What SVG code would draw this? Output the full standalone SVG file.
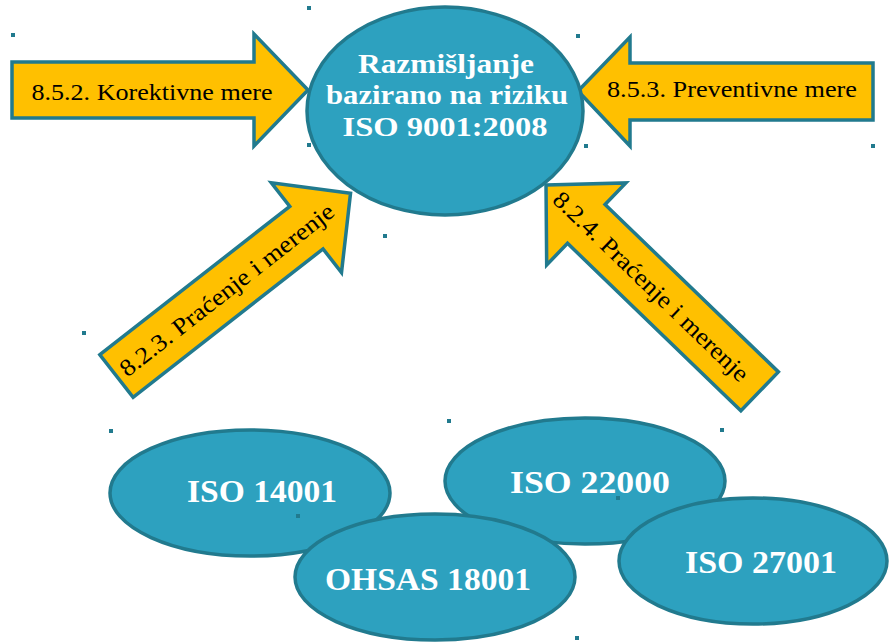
<svg xmlns="http://www.w3.org/2000/svg" width="890" height="642" viewBox="0 0 890 642">
<style>
.ell{fill:#2da1bf;stroke:#217a8e;stroke-width:3.5}
.arr{fill:#ffc000;stroke:#217a8e;stroke-width:3.5;stroke-linejoin:miter}
.wt{font-family:"Liberation Serif",serif;font-weight:bold;fill:#ffffff;text-anchor:middle}
.bt{font-family:"Liberation Serif",serif;fill:#000000;text-anchor:middle;font-size:24px}
.dot{fill:#217a8e}
</style>
<rect width="890" height="642" fill="#ffffff"/>
<g id="dots">
<rect class="dot" x="307" y="6" width="4" height="4"/>
<rect class="dot" x="11" y="33" width="4" height="4"/>
<rect class="dot" x="307" y="143" width="4" height="4"/>
<rect class="dot" x="576" y="34" width="4" height="4"/>
<rect class="dot" x="584" y="144" width="4" height="4"/>
<rect class="dot" x="871" y="144" width="4" height="4"/>
<rect class="dot" x="383" y="234" width="4" height="4"/>
<rect class="dot" x="82" y="331" width="4" height="4"/>
<rect class="dot" x="109" y="429" width="4" height="4"/>
<rect class="dot" x="447" y="419" width="4" height="4"/>
<rect class="dot" x="720" y="428" width="4" height="4"/>
<rect class="dot" x="575" y="636" width="4" height="4"/>
</g>
<g id="connectors">
<g id="arrow-korektivne">
<polygon class="arr" points="12,62 254,62 254,34 308,90 254,146 254,118 12,118"/>
<text class="bt" x="152" y="100" textLength="241" lengthAdjust="spacingAndGlyphs">8.5.2. Korektivne mere</text>
</g>
<g id="arrow-preventivne">
<polygon class="arr" points="873,63 630,63 630,37 578,91 630,146 630,120 873,120"/>
<text class="bt" x="732" y="97" textLength="250" lengthAdjust="spacingAndGlyphs">8.5.3. Preventivne mere</text>
</g>
<g id="arrow-823" transform="translate(116.5,376) rotate(-38)">
<polygon class="arr" points="0,-27 241,-27 241,-57 297,0 241,57 241,27 0,27"/>
<text class="bt" x="140" y="8" textLength="265" lengthAdjust="spacingAndGlyphs">8.2.3. Praćenje i merenje</text>
</g>
<g id="arrow-824" transform="translate(546,185) rotate(44)">
<polygon class="arr" points="0,0 56,-57 56,-27 297,-27 297,27 56,27 56,57"/>
<text class="bt" x="146" y="8" textLength="262" lengthAdjust="spacingAndGlyphs">8.2.4. Praćenje i merenje</text>
</g>
</g>
<g id="node-risk">
<ellipse class="ell" cx="445" cy="111" rx="138" ry="104"/>
<text class="wt" font-size="27" x="446" y="73" textLength="176" lengthAdjust="spacingAndGlyphs">Razmišljanje</text>
<text class="wt" font-size="27" x="447" y="104" textLength="242" lengthAdjust="spacingAndGlyphs">bazirano na riziku</text>
<text class="wt" font-size="27" x="445" y="136" textLength="205" lengthAdjust="spacingAndGlyphs">ISO 9001:2008</text>
</g>
<g id="node-iso14001">
<ellipse class="ell" cx="250" cy="493" rx="140" ry="63"/>
<text class="wt" font-size="31" x="262" y="502" textLength="150" lengthAdjust="spacingAndGlyphs">ISO 14001</text>
</g>
<g id="node-iso22000">
<ellipse class="ell" cx="585" cy="481" rx="140" ry="63"/>
<text class="wt" font-size="31" x="590" y="493" textLength="160" lengthAdjust="spacingAndGlyphs">ISO 22000</text>
</g>
<g id="node-ohsas18001">
<ellipse class="ell" cx="435" cy="577" rx="140" ry="63"/>
<text class="wt" font-size="31" x="428" y="590" textLength="206" lengthAdjust="spacingAndGlyphs">OHSAS 18001</text>
</g>
<g id="node-iso27001">
<ellipse class="ell" cx="753" cy="561" rx="134" ry="63"/>
<text class="wt" font-size="31" x="761" y="573" textLength="152" lengthAdjust="spacingAndGlyphs">ISO 27001</text>
</g>
<g id="dots-top">
<rect class="dot" x="296" y="514" width="4" height="4"/>
<rect class="dot" x="616" y="496" width="4" height="4"/>
</g>
</svg>
